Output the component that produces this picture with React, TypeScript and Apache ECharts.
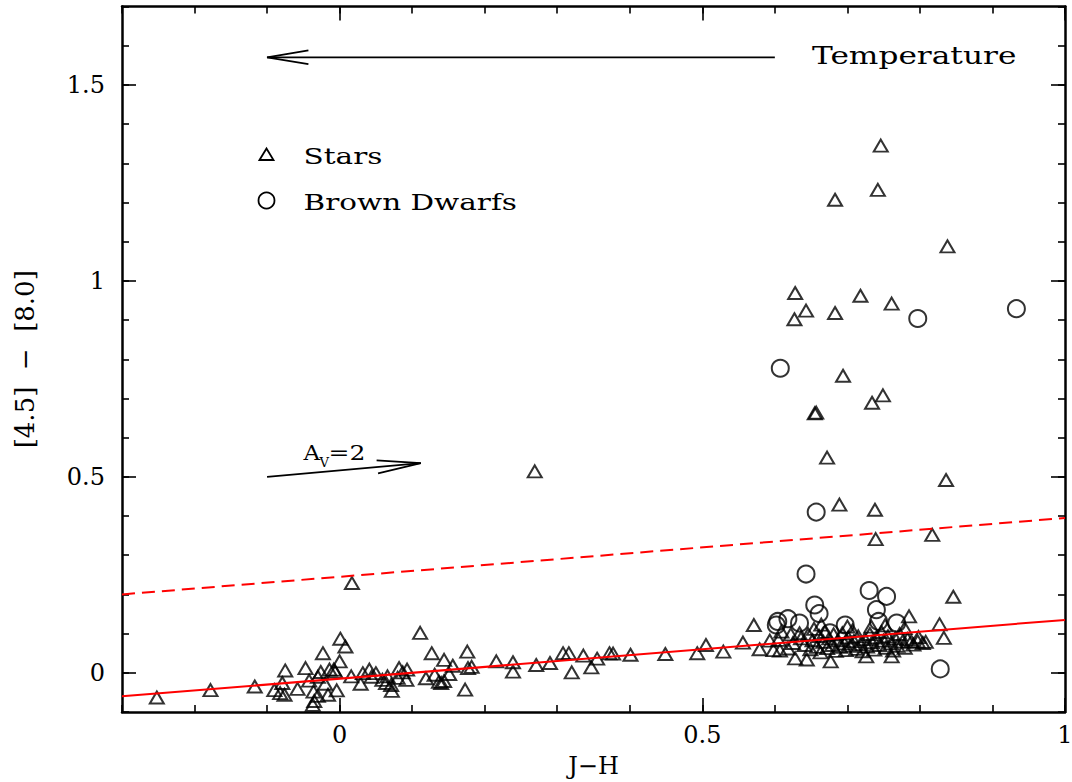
import React, { useEffect, useRef } from 'react';
import * as echarts from 'echarts';

// ---- data ----
const xMajorTicks = [0, 0.5, 1];
const yMajorTicks = [0, 0.5, 1, 1.5];

const stars: number[][] = [
  // left / middle band
  [-0.252, -0.063], [-0.178, -0.044], [-0.117, -0.035], [-0.090, -0.044], [-0.082, -0.052],
  [-0.076, -0.056], [-0.079, -0.026], [-0.075, 0.006], [-0.058, -0.041], [-0.047, 0.012],
  [-0.042, -0.020], [-0.036, -0.048], [-0.035, -0.072], [-0.030, -0.059], [-0.037, -0.082],
  [-0.023, 0.050], [-0.026, 0.002], [-0.030, -0.010], [-0.020, -0.028], [-0.016, -0.056],
  [-0.014, 0.008], [-0.008, 0.008], [-0.006, 0.003], [-0.004, -0.045], [0.000, 0.029],
  [0.001, 0.087], [0.008, 0.067], [0.016, -0.009], [0.029, -0.028], [0.032, -0.001],
  [0.041, 0.008], [0.044, -0.010], [0.050, -0.001], [0.059, -0.018], [0.064, -0.026],
  [0.066, -0.009], [0.071, -0.031], [0.072, -0.046], [0.080, -0.013], [0.082, 0.012],
  [0.087, 0.001], [0.093, 0.008], [0.092, -0.018], [0.017, 0.229], [0.111, 0.102],
  [0.119, -0.014], [0.127, 0.050], [0.131, -0.005], [0.137, -0.023], [0.140, -0.026],
  [0.144, -0.021], [0.144, 0.033], [0.156, 0.018], [0.151, -0.003], [0.173, -0.043],
  [0.176, 0.054], [0.177, 0.012], [0.182, 0.015], [0.216, 0.029], [0.239, 0.027],
  [0.239, 0.003], [0.269, 0.514], [0.271, 0.020], [0.290, 0.025], [0.308, 0.050],
  [0.316, 0.050], [0.320, 0.001], [0.336, 0.044], [0.347, 0.014], [0.355, 0.036],
  [0.372, 0.050], [0.377, 0.049], [0.401, 0.046], [0.449, 0.048], [0.493, 0.050],
  [0.505, 0.071], [0.529, 0.054], [0.556, 0.077], [0.571, 0.122], [0.579, 0.060],
  [0.593, 0.082], [0.598, 0.058], [0.605, 0.084], [0.607, 0.057], [0.609, 0.105],
  [0.625, 0.076], [0.628, 0.037], [0.634, 0.101], [0.644, 0.034], [0.677, 0.029],
  [0.726, 0.042], [0.761, 0.042],
  // dense cluster
  [0.636, 0.088], [0.641, 0.071], [0.646, 0.098], [0.649, 0.060], [0.652, 0.083],
  [0.654, 0.112], [0.658, 0.066], [0.661, 0.094], [0.663, 0.052], [0.667, 0.079],
  [0.669, 0.104], [0.672, 0.063], [0.675, 0.088], [0.679, 0.071], [0.681, 0.098],
  [0.684, 0.056], [0.687, 0.083], [0.690, 0.066], [0.693, 0.101], [0.696, 0.075],
  [0.698, 0.058], [0.701, 0.090], [0.704, 0.069], [0.707, 0.108], [0.709, 0.081],
  [0.712, 0.061], [0.715, 0.093], [0.718, 0.073], [0.721, 0.055], [0.724, 0.086],
  [0.727, 0.067], [0.731, 0.099], [0.734, 0.078], [0.737, 0.059], [0.740, 0.090],
  [0.744, 0.071], [0.747, 0.104], [0.750, 0.082], [0.753, 0.064], [0.756, 0.093],
  [0.760, 0.075], [0.763, 0.057], [0.766, 0.088], [0.769, 0.069], [0.772, 0.099],
  [0.776, 0.080], [0.779, 0.064], [0.783, 0.086], [0.791, 0.072], [0.798, 0.091],
  [0.808, 0.079], [0.664, 0.123], [0.700, 0.118], [0.752, 0.121], [0.779, 0.114],
  [0.622, 0.098], [0.618, 0.062],
  // right edge of cluster
  [0.785, 0.144], [0.788, 0.080], [0.797, 0.080], [0.804, 0.076], [0.827, 0.124],
  [0.833, 0.089], [0.846, 0.194], [0.733, 0.118],
  // upper scatter
  [0.746, 1.345], [0.742, 1.232], [0.683, 1.207], [0.838, 1.088], [0.628, 0.969],
  [0.718, 0.962], [0.761, 0.942], [0.643, 0.924], [0.683, 0.918], [0.627, 0.902],
  [0.694, 0.758], [0.749, 0.708], [0.734, 0.689], [0.655, 0.662], [0.657, 0.664],
  [0.672, 0.549], [0.836, 0.492], [0.689, 0.429], [0.738, 0.416], [0.817, 0.352],
  [0.739, 0.341],
];

const brownDwarfs: number[][] = [
  [0.933, 0.929], [0.797, 0.904], [0.6075, 0.777], [0.657, 0.41], [0.643, 0.252],
  [0.730, 0.210], [0.754, 0.195], [0.655, 0.173], [0.740, 0.161], [0.661, 0.151],
  [0.604, 0.131], [0.618, 0.138], [0.602, 0.122], [0.634, 0.127], [0.697, 0.122],
  [0.676, 0.102], [0.743, 0.131], [0.768, 0.127], [0.828, 0.010],
];

const solidLine = [[-0.3, -0.06], [1.0, 0.135]];
const dashedLine = [[-0.3, 0.2], [1.0, 0.395]];
const tempArrowShaft = [[0.6, 1.57], [-0.1, 1.57]];
const tempArrowHead = [[-0.043, 1.588], [-0.1, 1.57], [-0.043, 1.553]];
const avArrowShaft = [[-0.1, 0.5], [0.112, 0.535]];
const avArrowHead = [[0.051, 0.542], [0.112, 0.535], [0.053, 0.509]];

const FONT = '"DejaVu Serif", "Liberation Serif", serif';

const isMajor = (v: number) => Math.abs(v * 2 - Math.round(v * 2)) < 1e-6;
const fmt = (v: number) => (isMajor(v) ? String(+v.toFixed(1)) : '');

function baseAxis(extra: any) {
  return {
    type: 'value',
    splitLine: { show: false },
    axisLine: { show: false, onZero: false, lineStyle: { color: '#000', width: 2.5 } },
    axisTick: { show: true, inside: true, length: 7, lineStyle: { color: '#000', width: 1.6 } },
    axisLabel: { show: false },
    ...extra,
  };
}

export default function App() {
  const ref = useRef<HTMLDivElement>(null);
  useEffect(() => {
    document.body.style.margin = '0';
    if (!ref.current) return;
    const chart = echarts.init(ref.current, undefined, { renderer: 'svg' });
    const xr = { min: -0.3, max: 1.0 };
    const yr = { min: -0.1, max: 1.7 };
    const frameLine = { show: true, onZero: false, lineStyle: { color: '#000', width: 2.5 } };
    const majorTick = (vals: number[]) => ({
      show: true, inside: true, length: 14, customValues: vals, lineStyle: { color: '#000', width: 1.6 },
    });
    const lineCommon = {
      type: 'line',
      symbol: 'none',
      silent: true,
      animation: false,
      xAxisIndex: 0,
      yAxisIndex: 0,
    };
    const option: any = {
      animation: false,
      backgroundColor: '#fff',
      grid: { left: 122, right: 7, top: 6.5, bottom: 70, containLabel: false, outerBoundsMode: 'none' },
      xAxis: [
        baseAxis({
          ...xr, interval: 0.1, position: 'bottom',
          axisLine: frameLine,
          axisLabel: {
            show: true, formatter: fmt, margin: 11, color: '#000',
            fontFamily: FONT, fontSize: 24, showMaxLabel: true, showMinLabel: true,
          },
          name: 'J\u2212H', nameLocation: 'middle', nameGap: 42,
          nameTextStyle: { fontFamily: FONT, fontSize: 24, color: '#000' },
        }),
        baseAxis({ ...xr, position: 'bottom', axisTick: majorTick(xMajorTicks) }),
        baseAxis({ ...xr, interval: 0.1, position: 'top', axisLine: frameLine }),
        baseAxis({ ...xr, position: 'top', axisTick: majorTick(xMajorTicks) }),
      ],
      yAxis: [
        baseAxis({
          ...yr, interval: 0.1, position: 'left',
          axisLine: frameLine,
          axisLabel: {
            show: true, formatter: fmt, margin: 17, color: '#000',
            fontFamily: FONT, fontSize: 24,
          },
          name: '[4.5]  \u2212  [8.0]', nameLocation: 'middle', nameGap: 84,
          nameTextStyle: { fontFamily: FONT, fontSize: 26, color: '#000' },
        }),
        baseAxis({ ...yr, position: 'left', axisTick: majorTick(yMajorTicks) }),
        baseAxis({ ...yr, interval: 0.1, position: 'right', axisLine: frameLine }),
        baseAxis({ ...yr, position: 'right', axisTick: majorTick(yMajorTicks) }),
      ],
      series: [
        {
          name: 'Stars', type: 'scatter', data: stars, xAxisIndex: 0, yAxisIndex: 0,
          symbol: 'triangle', symbolSize: [14, 12], silent: true,
          itemStyle: { color: 'rgba(0,0,0,0)', borderColor: '#000', borderWidth: 2 },
        },
        {
          name: 'Brown Dwarfs', type: 'scatter', data: brownDwarfs, xAxisIndex: 0, yAxisIndex: 0,
          symbol: 'circle', symbolSize: 17, silent: true,
          itemStyle: { color: 'rgba(0,0,0,0)', borderColor: '#000', borderWidth: 2 },
        },
        { ...lineCommon, name: 'fit', data: solidLine, lineStyle: { color: '#ff0000', width: 2 } },
        { ...lineCommon, name: 'limit', data: dashedLine, lineStyle: { color: '#ff0000', width: 2, type: [13, 7] } },
        { ...lineCommon, name: 'tempShaft', data: tempArrowShaft, lineStyle: { color: '#000', width: 1.8 } },
        { ...lineCommon, name: 'tempHead', data: tempArrowHead, lineStyle: { color: '#000', width: 1.8 } },
        { ...lineCommon, name: 'avShaft', data: avArrowShaft, lineStyle: { color: '#000', width: 1.8 } },
        { ...lineCommon, name: 'avHead', data: avArrowHead, lineStyle: { color: '#000', width: 1.8 } },
      ],
      graphic: [
        {
          type: 'text', x: 812, y: 56, scaleX: 1.3, silent: true,
          style: { text: 'Temperature', fontFamily: FONT, fontSize: 24, fill: '#000', align: 'left', verticalAlign: 'middle' },
        },
        {
          type: 'polygon', silent: true,
          shape: { points: [[259.5, 160], [266.5, 148.5], [273.5, 160]] },
          style: { fill: 'none', stroke: '#000', lineWidth: 1.8 },
        },
        {
          type: 'circle', silent: true,
          shape: { cx: 266.5, cy: 200.5, r: 8 },
          style: { fill: 'none', stroke: '#000', lineWidth: 1.8 },
        },
        {
          type: 'text', x: 303.6, y: 156, scaleX: 1.28, silent: true,
          style: { text: 'Stars', fontFamily: FONT, fontSize: 23, fill: '#000', align: 'left', verticalAlign: 'middle' },
        },
        {
          type: 'text', x: 303.6, y: 202, scaleX: 1.28, silent: true,
          style: { text: 'Brown Dwarfs', fontFamily: FONT, fontSize: 23, fill: '#000', align: 'left', verticalAlign: 'middle' },
        },
        {
          type: 'text', x: 303.6, y: 453, scaleX: 1.15, silent: true,
          style: { text: 'A', fontFamily: FONT, fontSize: 20, fill: '#000', align: 'left', verticalAlign: 'middle' },
        },
        {
          type: 'text', x: 319.5, y: 462.5, scaleX: 1.1, silent: true,
          style: { text: 'V', fontFamily: FONT, fontSize: 12, fill: '#000', align: 'left', verticalAlign: 'middle' },
        },
        {
          type: 'text', x: 328.6, y: 453, scaleX: 1.25, silent: true,
          style: { text: '=2', fontFamily: FONT, fontSize: 20, fill: '#000', align: 'left', verticalAlign: 'middle' },
        },
      ],
    };
    chart.setOption(option);
    return () => chart.dispose();
  }, []);
  return <div ref={ref} style={{ width: 1072, height: 782 }} />;
}
